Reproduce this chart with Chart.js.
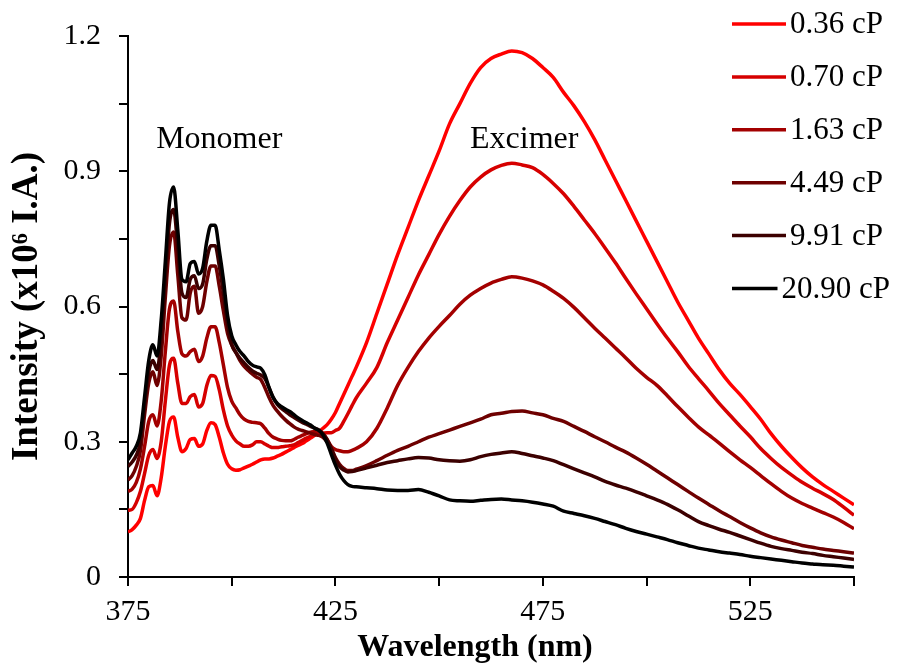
<!DOCTYPE html>
<html>
<head>
<meta charset="utf-8">
<script src="https://cdn.jsdelivr.net/npm/chart.js@4.4.1/dist/chart.umd.min.js"></script>
<style>
  body { margin: 0; background: #fff; }
  canvas { display: block; }
</style>
</head>
<body>
<canvas id="spectra" width="905" height="665"></canvas>
<script>
// Wavelength grid (nm): 1 nm steps over the monomer bands, 2.5 nm over the excimer band
const wavelengths = [
  375, 376, 377, 378, 379, 380, 381, 382, 383, 384, 385, 386, 387, 388, 389, 390,
  391, 392, 393, 394, 395, 396, 397, 398, 399, 400, 401, 402, 403, 404, 405, 406,
  407, 408, 409, 410, 411, 412, 413, 414, 415, 416, 417, 418, 419, 420, 421, 422,
  423, 424, 425, 426, 427, 428, 429, 430,
  432.5, 435, 437.5, 440, 442.5, 445, 447.5, 450, 452.5, 455, 457.5, 460, 462.5,
  465, 467.5, 470, 472.5, 475, 477.5, 480, 482.5, 485, 487.5, 490, 492.5, 495,
  497.5, 500, 502.5, 505, 507.5, 510, 512.5, 515, 517.5, 520, 522.5, 525, 527.5,
  530, 532.5, 535, 537.5, 540, 542.5, 545, 547.5, 550
];

const seriesLabels = ['0.36 cP', '0.70 cP', '1.63 cP', '4.49 cP', '9.91 cP', '20.90 cP'];
const seriesColors = ['#ff0000', '#d60000', '#a30000', '#6e0000', '#3c0000', '#000000'];

// Intensity (x10^6 I.A.)
const visc036 = [
  0.10, 0.105, 0.115, 0.13, 0.17, 0.20, 0.203, 0.18, 0.22, 0.29, 0.345, 0.355, 0.31, 0.278, 0.285, 0.305,
  0.307, 0.29, 0.295, 0.325, 0.342, 0.338, 0.31, 0.275, 0.25, 0.24, 0.237, 0.238, 0.242, 0.246, 0.25, 0.255,
  0.26, 0.262, 0.262, 0.264, 0.268, 0.272, 0.277, 0.282, 0.287, 0.292, 0.296, 0.302, 0.308, 0.314, 0.322, 0.33,
  0.338, 0.35, 0.365, 0.385, 0.405, 0.425, 0.445, 0.465,
  0.52, 0.585, 0.65, 0.715, 0.775, 0.835, 0.89, 0.945, 1.005, 1.05, 1.095, 1.13, 1.15,
  1.16, 1.167, 1.163, 1.15, 1.13, 1.108, 1.075, 1.045, 1.01, 0.97, 0.925, 0.88, 0.835,
  0.79, 0.745, 0.70, 0.655, 0.61, 0.57, 0.53, 0.495, 0.46, 0.43, 0.405, 0.378, 0.35,
  0.318, 0.29, 0.265, 0.242, 0.222, 0.205, 0.19, 0.175, 0.16
];
const visc070 = [
  0.148, 0.15, 0.165, 0.19, 0.23, 0.27, 0.283, 0.263, 0.30, 0.39, 0.47, 0.485, 0.43, 0.385, 0.385, 0.40,
  0.405, 0.377, 0.385, 0.425, 0.447, 0.445, 0.415, 0.37, 0.335, 0.315, 0.302, 0.295, 0.29, 0.29, 0.293, 0.30,
  0.30, 0.295, 0.29, 0.287, 0.287, 0.289, 0.29, 0.291, 0.293, 0.298, 0.303, 0.308, 0.312, 0.316, 0.318, 0.319,
  0.32, 0.32, 0.325, 0.33, 0.345, 0.362, 0.38, 0.397,
  0.43, 0.465, 0.52, 0.57, 0.62, 0.67, 0.715, 0.76, 0.80, 0.835, 0.865, 0.887, 0.903,
  0.913, 0.918, 0.914, 0.908, 0.893, 0.873, 0.85, 0.822, 0.792, 0.762, 0.73, 0.697, 0.662,
  0.628, 0.595, 0.562, 0.53, 0.50, 0.468, 0.44, 0.413, 0.385, 0.36, 0.335, 0.311, 0.285,
  0.263, 0.243, 0.226, 0.21, 0.197, 0.185, 0.172, 0.155, 0.137
];
const visc163 = [
  0.19, 0.195, 0.21, 0.24, 0.29, 0.345, 0.36, 0.335, 0.39, 0.50, 0.595, 0.612, 0.545, 0.495, 0.49, 0.50,
  0.505, 0.478, 0.49, 0.53, 0.555, 0.555, 0.52, 0.47, 0.42, 0.39, 0.375, 0.36, 0.35, 0.345, 0.343, 0.342,
  0.34, 0.33, 0.318, 0.31, 0.306, 0.303, 0.302, 0.302, 0.305, 0.31, 0.314, 0.318, 0.321, 0.323, 0.323, 0.318,
  0.305, 0.29, 0.283, 0.28, 0.278, 0.278, 0.281, 0.285,
  0.30, 0.33, 0.375, 0.425, 0.465, 0.50, 0.53, 0.556, 0.58, 0.605, 0.625, 0.64, 0.652,
  0.66, 0.666, 0.663, 0.657, 0.648, 0.634, 0.618, 0.598, 0.575, 0.552, 0.53, 0.508, 0.486,
  0.463, 0.443, 0.425, 0.402, 0.378, 0.355, 0.333, 0.315, 0.297, 0.278, 0.26, 0.243, 0.225,
  0.207, 0.19, 0.175, 0.163, 0.153, 0.143, 0.133, 0.121, 0.107
];
const visc449 = [
  0.215, 0.225, 0.245, 0.28, 0.36, 0.43, 0.455, 0.425, 0.49, 0.62, 0.735, 0.765, 0.67, 0.575, 0.57, 0.63,
  0.645, 0.585, 0.60, 0.655, 0.69, 0.69, 0.645, 0.59, 0.54, 0.515, 0.498, 0.48, 0.467, 0.458, 0.45, 0.443,
  0.438, 0.42, 0.398, 0.38, 0.368, 0.357, 0.348, 0.34, 0.333, 0.328, 0.325, 0.322, 0.319, 0.316, 0.314, 0.31,
  0.30, 0.285, 0.265, 0.25, 0.241, 0.236, 0.236, 0.239,
  0.247, 0.258, 0.27, 0.281, 0.29, 0.30, 0.31, 0.318, 0.326, 0.334, 0.342, 0.35, 0.36,
  0.363, 0.367, 0.368, 0.364, 0.36, 0.352, 0.345, 0.334, 0.323, 0.311, 0.30, 0.288, 0.277,
  0.264, 0.25, 0.235, 0.22, 0.205, 0.19, 0.175, 0.161, 0.147, 0.134, 0.121, 0.109, 0.098,
  0.089, 0.082, 0.076, 0.07, 0.066, 0.062, 0.059, 0.056, 0.053
];
const visc991 = [
  0.245, 0.255, 0.27, 0.30, 0.38, 0.455, 0.48, 0.46, 0.53, 0.66, 0.785, 0.815, 0.73, 0.63, 0.62, 0.66,
  0.668, 0.64, 0.65, 0.705, 0.735, 0.735, 0.69, 0.63, 0.56, 0.515, 0.498, 0.485, 0.475, 0.465, 0.457, 0.452,
  0.448, 0.44, 0.42, 0.398, 0.383, 0.374, 0.367, 0.36, 0.354, 0.348, 0.343, 0.339, 0.334, 0.33, 0.326, 0.318,
  0.305, 0.285, 0.262, 0.245, 0.237, 0.233, 0.234, 0.236,
  0.242, 0.248, 0.254, 0.258, 0.262, 0.265, 0.264, 0.26, 0.258, 0.257, 0.26, 0.267, 0.272,
  0.275, 0.278, 0.274, 0.269, 0.264, 0.258, 0.249, 0.24, 0.231, 0.222, 0.212, 0.204, 0.197,
  0.189, 0.18, 0.171, 0.161, 0.149, 0.136, 0.123, 0.114, 0.106, 0.099, 0.091, 0.083, 0.075,
  0.068, 0.063, 0.059, 0.055, 0.052, 0.048, 0.045, 0.042, 0.039
];
const visc2090 = [
  0.26, 0.275, 0.29, 0.32, 0.40, 0.48, 0.515, 0.49, 0.57, 0.70, 0.83, 0.865, 0.77, 0.66, 0.655, 0.695,
  0.70, 0.672, 0.685, 0.745, 0.78, 0.78, 0.725, 0.66, 0.58, 0.535, 0.515, 0.50, 0.49, 0.478, 0.47, 0.466,
  0.463, 0.448, 0.42, 0.398, 0.385, 0.378, 0.372, 0.367, 0.36, 0.353, 0.347, 0.342, 0.337, 0.33, 0.325, 0.315,
  0.297, 0.272, 0.248, 0.228, 0.214, 0.205, 0.201, 0.20,
  0.198, 0.196, 0.193, 0.192, 0.192, 0.194, 0.188, 0.18, 0.171, 0.169, 0.168, 0.17, 0.172,
  0.173, 0.171, 0.169, 0.166, 0.162, 0.157, 0.146, 0.141, 0.136, 0.13, 0.123, 0.116, 0.108,
  0.101, 0.095, 0.089, 0.083, 0.076, 0.07, 0.064, 0.06, 0.056, 0.053, 0.05, 0.046, 0.043,
  0.04, 0.037, 0.034, 0.031, 0.029, 0.027, 0.026, 0.024, 0.022
];
const seriesValues = [visc036, visc070, visc163, visc449, visc991, visc2090];

const xTickLabels = [375, 425, 475, 525];
const yTickLabels = [0, 0.3, 0.6, 0.9, 1.2];
const bandLabels = [
  { text: 'Monomer', nm: 397, value: 0.97 },
  { text: 'Excimer', nm: 470.5, value: 0.97 }
];

const serif = "'Liberation Serif', 'Times New Roman', serif";

function near(list, v) {
  return list.some(t => Math.abs(t - v) < 1e-6);
}

// Excel style legend and band annotations drawn on top of the plot
const overlayPlugin = {
  id: 'overlay',
  afterDraw(chart) {
    const ctx = chart.ctx;
    const xs = chart.scales.x, ys = chart.scales.y;
    ctx.save();
    ctx.fillStyle = '#000';
    ctx.font = '32px ' + serif;
    ctx.textAlign = 'center';
    ctx.textBaseline = 'middle';
    bandLabels.forEach(b => {
      ctx.fillText(b.text, xs.getPixelForValue(b.nm), ys.getPixelForValue(b.value));
    });

    ctx.font = '31px ' + serif;
    ctx.textAlign = 'left';
    seriesLabels.forEach((label, i) => {
      const y = 24 + i * 52.9;
      // long labels are pushed left so they stay inside the figure
      const textX = Math.min(790, 890 - ctx.measureText(label).width);
      ctx.strokeStyle = seriesColors[i];
      ctx.lineWidth = 3.5;
      ctx.beginPath();
      ctx.moveTo(732, y);
      ctx.lineTo(textX - 4, y);
      ctx.stroke();
      ctx.fillStyle = '#000';
      ctx.fillText(label, textX, y + 1);
    });
    ctx.restore();
  }
};

const datasets = seriesLabels.map((label, i) => ({
  label: label,
  data: wavelengths.map((w, k) => ({ x: w, y: seriesValues[i][k] })),
  borderColor: seriesColors[i],
  borderWidth: 3.5,
  pointRadius: 0,
  fill: false,
  cubicInterpolationMode: 'monotone',
  order: seriesLabels.length - i
}));

const ctx = document.getElementById('spectra').getContext('2d');
const chart = new Chart(ctx, {
  type: 'line',
  data: { datasets: datasets },
  options: {
    responsive: false,
    animation: false,
    layout: { padding: { left: 0, right: 51, top: 32, bottom: 0 } },
    plugins: {
      legend: { display: false },
      tooltip: { enabled: false }
    },
    scales: {
      x: {
        type: 'linear',
        min: 375,
        max: 550,
        afterFit: s => { s.height = 88; },
        border: { color: '#000', width: 2 },
        grid: { drawOnChartArea: false, drawTicks: true, tickLength: 9, color: '#000', lineWidth: 2 },
        ticks: {
          stepSize: 25,
          autoSkip: false,
          maxRotation: 0,
          padding: 8,
          color: '#000',
          font: { family: serif, size: 30 },
          callback: v => near(xTickLabels, v) ? String(v) : ''
        },
        title: {
          display: true,
          // trailing spaces nudge the centred title left, as in the original figure
          text: 'Wavelength (nm)    ',
          color: '#000',
          font: { family: serif, size: 32, weight: 'bold', lineHeight: 1.05 },
          padding: { top: 0, bottom: 0 }
        }
      },
      y: {
        min: 0,
        max: 1.2,
        afterFit: s => { s.width = 128; },
        border: { color: '#000', width: 2 },
        grid: { drawOnChartArea: false, drawTicks: true, tickLength: 9, color: '#000', lineWidth: 2 },
        ticks: {
          stepSize: 0.15,
          autoSkip: false,
          padding: 18,
          color: '#000',
          font: { family: serif, size: 30 },
          callback: v => near(yTickLabels, v) ? String(Math.round(v * 10) / 10) : ''
        },
        title: {
          display: true,
          text: 'Intensity (x10⁶ I.A.)',
          color: '#000',
          font: { family: serif, size: 37, weight: 'bold', lineHeight: 1.0 },
          padding: { top: 9, bottom: 0 }
        }
      }
    }
  },
  plugins: [overlayPlugin]
});
</script>
</body>
</html>
